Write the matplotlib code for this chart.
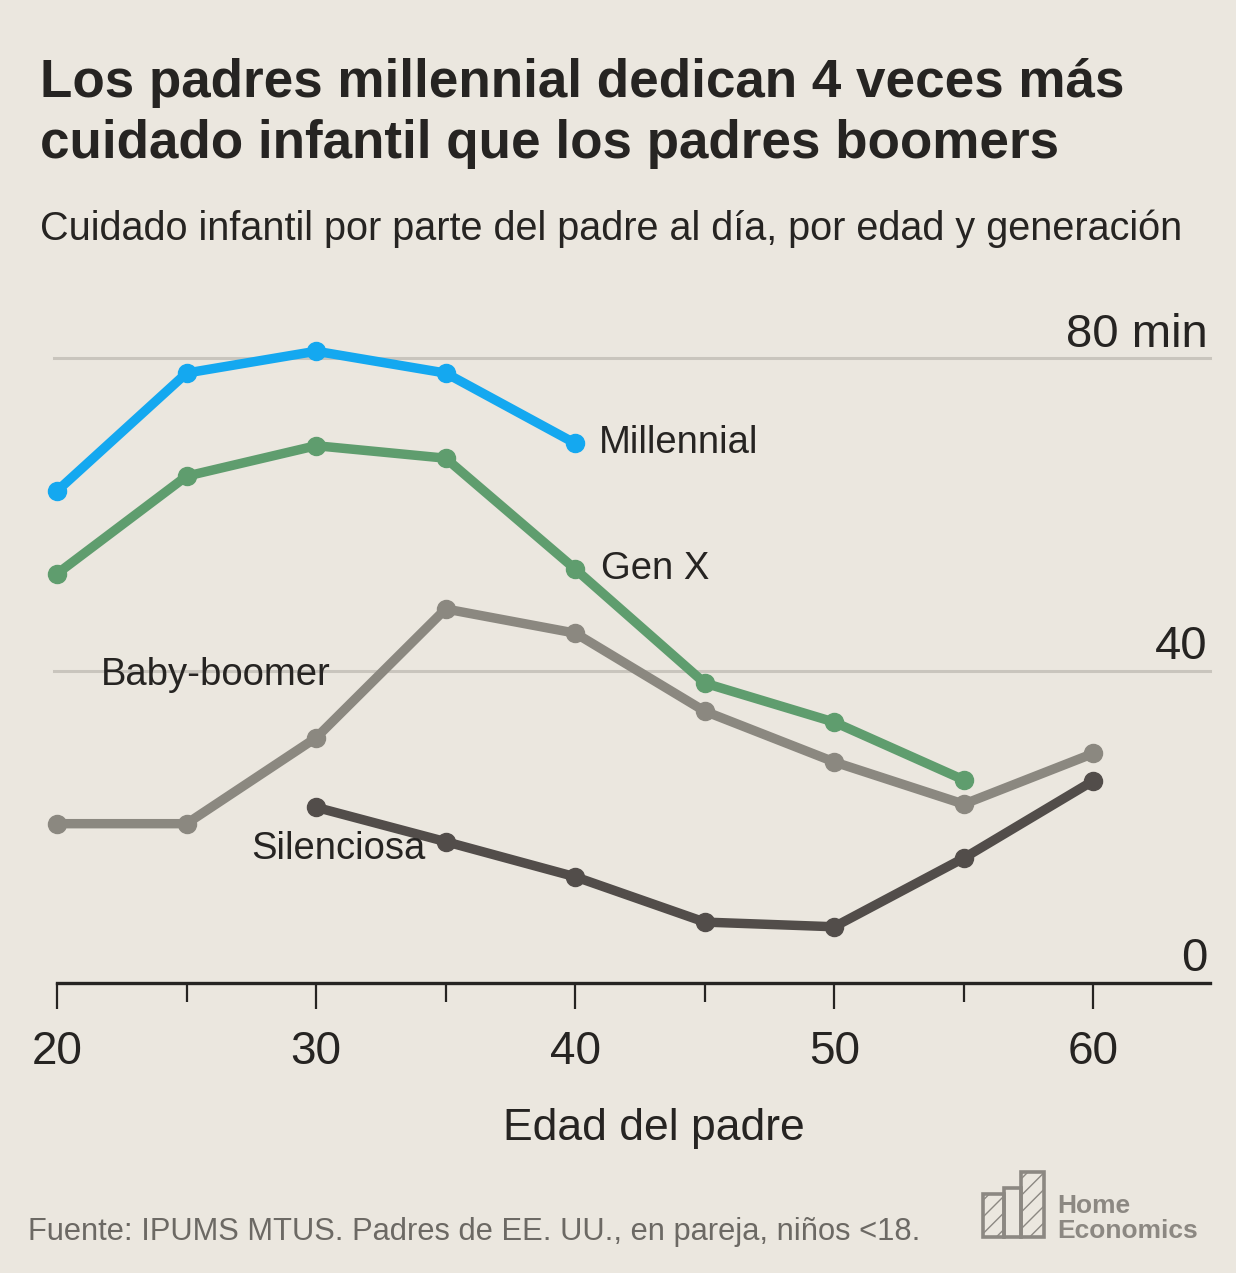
import matplotlib.pyplot as plt
from matplotlib.patches import Rectangle
from matplotlib.ticker import MultipleLocator

# datos (minutos al dia)
ages_mill = [20, 25, 30, 35, 40]
mill = [63, 78.1, 80.9, 78.1, 69.1]

ages_genx = [20, 25, 30, 35, 40, 45, 50, 55]
genx = [52.4, 64.9, 68.8, 67.2, 53, 38.4, 33.4, 26]

ages_boom = [20, 25, 30, 35, 40, 45, 50, 55, 60]
boom = [20.4, 20.4, 31.4, 47.9, 44.8, 34.8, 28.3, 22.9, 29.4]

ages_sil = [30, 35, 40, 45, 50, 55, 60]
sil = [22.5, 18.1, 13.6, 7.8, 7.2, 16, 25.9]

gridlines = [40, 80]
ylabels = ['40', '80 min']

BG = '#ebe7df'
INK = '#262422'
plt.rcParams['font.family'] = ['Liberation Sans', 'DejaVu Sans']

W, H = 1236, 1273
fig = plt.figure(figsize=(W/100, H/100), dpi=100, facecolor=BG)
ax = fig.add_axes([57/W, (H-983)/H, (1210-57)/W, 656/H])
ax.set_facecolor(BG)
ax.set_xlim(20, 64.5)
ax.set_ylim(0, 84)

for g in gridlines:
    ax.plot([19.9, 64.5], [g, g], color='#c9c5bd', lw=2.2, zorder=1, clip_on=False)
for g, lab in zip([0] + gridlines, ['0'] + ylabels):
    ax.text(64.4, g + 1.5, lab, ha='right', va='baseline', fontsize=34, color=INK)

series = [
    (ages_sil, sil, '#524d4a'),
    (ages_boom, boom, '#8b8880'),
    (ages_genx, genx, '#5f9d6e'),
    (ages_mill, mill, '#14a8f0'),
]
for x, y, c in series:
    ax.plot(x, y, color=c, lw=6.8, marker='o', ms=13, zorder=3, clip_on=False,
            solid_joinstyle='round')

lab_kw = dict(fontsize=27.5, color=INK, va='center')
ax.text(40.9, 69.1, 'Millennial', **lab_kw)
ax.text(41.0, 53, 'Gen X', **lab_kw)
ax.text(21.7, 39.5, 'Baby-boomer', **lab_kw)
ax.text(27.5, 17.2, 'Silenciosa', **lab_kw)

for s in ['top', 'right', 'left']:
    ax.spines[s].set_visible(False)
ax.spines['bottom'].set_color(INK)
ax.spines['bottom'].set_linewidth(2.4)
ax.set_yticks([])
ax.xaxis.set_major_locator(MultipleLocator(10))
ax.xaxis.set_minor_locator(MultipleLocator(5))
ax.tick_params(axis='x', which='major', length=19, width=1.6, color=INK,
               labelsize=33, labelcolor=INK, pad=15)
ax.tick_params(axis='x', which='minor', length=14, width=1.6, color=INK)

fig.text(654/W, 1 - 1140/H, 'Edad del padre', fontsize=32, color=INK, ha='center')

fig.text(40/W, 1 - 97/H, 'Los padres millennial dedican 4 veces más',
         fontsize=38.2, fontweight='bold', color=INK)
fig.text(40/W, 1 - 158/H, 'cuidado infantil que los padres boomers',
         fontsize=38.2, fontweight='bold', color=INK)
fig.text(40/W, 1 - 240/H, 'Cuidado infantil por parte del padre al día, por edad y generación',
         fontsize=28.5, color=INK)
fig.text(28/W, 1 - 1240/H, 'Fuente: IPUMS MTUS. Padres de EE. UU., en pareja, niños <18.',
         fontsize=22.2, color='#6c6964')

# logo
LOGO = '#8c8882'
for x0, x1, top, hatch in [(983, 1004, 1194, '//'), (1004, 1021, 1188, ''), (1021, 1044, 1172, '//')]:
    fig.add_artist(Rectangle((x0/W, 1 - 1237/H), (x1-x0)/W, (1237-top)/H,
                             fill=False, edgecolor=LOGO, lw=2.6, hatch=hatch))
fig.text(1057/W, 1 - 1213/H, 'Home', fontsize=19, fontweight='bold', color=LOGO)
fig.text(1057/W, 1 - 1238/H, 'Economics', fontsize=19, fontweight='bold', color=LOGO)

fig.savefig('out.png', dpi=100, facecolor=BG)
